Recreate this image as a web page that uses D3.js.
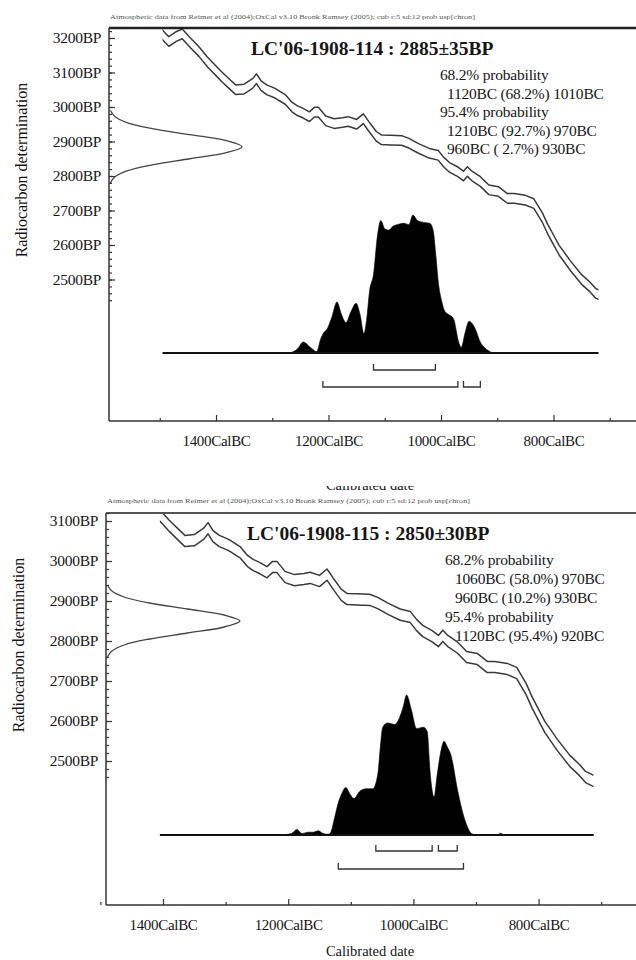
<!DOCTYPE html>
<html><head><meta charset="utf-8">
<script src="https://cdn.jsdelivr.net/npm/d3@7"></script>
<style>body{margin:0;background:#fff} svg{display:block}</style>
</head><body>
<svg id="c" width="636" height="960"></svg>
<script>
// ---------------- data ----------------
const headerText = "Atmospheric data from Reimer et al (2004);OxCal v3.10 Bronk Ramsey (2005); cub r:5 sd:12 prob usp[chron]";
const yAxisTitle = "Radiocarbon determination";
const xAxisTitle = "Calibrated date";
const xTickYears = [1400, 1200, 1000, 800];
const xMinorYears = [1500, 1300, 1100, 900, 700];
const yTicks1 = [3200, 3100, 3000, 2900, 2800, 2700, 2600, 2500];
const yTicks2 = [3100, 3000, 2900, 2800, 2700, 2600, 2500];

// calibration curve (IntCal04, as drawn): year BC, BP mean, +/- error
const curveYears = [1500,1490,1484,1470,1460,1445,1430,1415,1400,1390,1375,1365,1350,1335,1328,1320,1310,1295,1277,1265,1256,1245,1234,1225,1218,1205,1190,1175,1165,1150,1138,1128,1115,1106,1090,1070,1057,1040,1021,1005,995,985,970,960,953,945,930,915,898,882,870,850,835,820,810,800,790,770,750,735,725,712];
const curveBP = [3218,3200,3190,3205,3212,3185,3160,3130,3105,3088,3065,3050,3052,3068,3082,3062,3050,3040,3022,3000,2990,2982,2972,2985,2985,2960,2952,2955,2958,2950,2966,2943,2915,2905,2904,2903,2895,2880,2866,2860,2840,2825,2812,2800,2813,2800,2784,2760,2755,2735,2735,2730,2720,2680,2645,2615,2585,2540,2500,2478,2460,2450];
const curveErr = 14;

// radiocarbon date distribution shape (z in sigma units, relative density)
const gaussZ = [-3,-2.5,-2,-1.5,-1,-0.5,0,0.5,1,1.5,2,2.5,3];
const gaussP = [0.011,0.044,0.135,0.325,0.607,0.882,1,0.882,0.607,0.325,0.135,0.044,0.011];

// sample 1
const title1 = "LC'06-1908-114 : 2885\u00b135BP";
const date1 = 2885, err1 = 35;
const prob1Lines = ["68.2% probability", "1120BC (68.2%) 1010BC", "95.4% probability", "1210BC (92.7%) 970BC", "960BC ( 2.7%) 930BC"];
const prob1Indent = [0, 1, 0, 1, 1];
const dist1Years = [1269,1255,1245,1232,1221,1214,1208,1203,1194,1185,1177,1169,1160,1151,1144,1137,1132,1127,1120,1113,1107,1100,1093,1085,1078,1066,1057,1050,1042,1035,1020,1014,1009,1005,999,993,987,978,968,964,957,950,941,929,917,908];
const dist1P = [0,0.03,0.08,0.04,0.01,0.10,0.15,0.17,0.26,0.37,0.28,0.22,0.30,0.36,0.28,0.14,0.25,0.45,0.57,0.85,0.96,0.90,0.89,0.92,0.93,0.94,0.93,1.0,0.96,0.95,0.94,0.89,0.70,0.52,0.38,0.30,0.28,0.25,0.07,0.04,0.15,0.23,0.19,0.07,0.02,0];
const range1_68 = [[1120, 1010]];
const range1_95 = [[1210, 970], [960, 930]];
const span1 = [1495, 720];

// sample 2
const title2 = "LC'06-1908-115 : 2850\u00b130BP";
const date2 = 2850, err2 = 30;
const prob2Lines = ["68.2% probability", "1060BC (58.0%) 970BC", "960BC (10.2%) 930BC", "95.4% probability", "1120BC (95.4%) 920BC"];
const prob2Indent = [0, 1, 1, 0, 1];
const dist2Years = [1210,1195,1186,1178,1168,1160,1152,1144,1136,1132,1126,1120,1114,1108,1101,1095,1086,1076,1065,1057,1053,1049,1041,1030,1022,1016,1011,1003,995,984,978,973,967,962,956,951,946,940,929,918,907,900,866,861,856];
const dist2P = [0,0.01,0.04,0.01,0.02,0.02,0.03,0.01,0.005,0.02,0.12,0.23,0.30,0.34,0.29,0.26,0.31,0.33,0.33,0.43,0.62,0.77,0.80,0.79,0.84,0.92,1.0,0.89,0.76,0.77,0.74,0.43,0.27,0.43,0.60,0.67,0.63,0.57,0.31,0.11,0.01,0,0,0.012,0];
const range2_68 = [[1060, 970], [960, 930]];
const range2_95 = [[1120, 920]];
const span2 = [1405, 712];

// ---------------- drawing ----------------
const svg = d3.select("#c");
const FONT = "'Liberation Serif','Times New Roman',serif";
const INK = "#161616";
const curvePts = curveYears.map((y, i) => ({year: y, bp: curveBP[i]}));

function drawPanel(p, d, id) {
  const g = svg.append("g");
  const x = d3.scaleLinear().domain([1400, 1200]).range([p.x0, p.x0 + p.xPer200]);
  const y = d3.scaleLinear().domain([p.yTopBP, p.yTopBP - 100]).range([p.y0, p.y0 + p.yPer100]);
  const yd = d3.scaleLinear().domain([0, 1]).range([p.baseY, p.baseY - p.distH]);
  const gx = d3.scaleLinear().domain([0, 1]).range([p.left, p.left + p.gaussW]);

  // header
  g.append("text").attr("x", p.left + 1).attr("y", p.headerY)
    .attr("font-family", FONT).attr("font-size", 6.2).attr("fill", "#555")
    .attr("textLength", p.headerLen).attr("lengthAdjust", "spacingAndGlyphs").text(headerText);

  // clip
  const clipId = "clip" + id;
  svg.append("clipPath").attr("id", clipId).append("rect")
    .attr("x", x(d.span[0])).attr("y", p.top + 1)
    .attr("width", x(d.span[1]) - x(d.span[0])).attr("height", p.bottom - p.top - 2);

  // calibration curve (two lines)
  [1, -1].forEach(s => {
    g.append("path").datum(curvePts)
      .attr("clip-path", `url(#${clipId})`)
      .attr("fill", "none").attr("stroke", "#3a3a3a").attr("stroke-width", 1.5)
      .attr("stroke-linejoin", "round")
      .attr("d", d3.line().x(v => x(v.year)).y(v => y(v.bp + s * curveErr)));
  });

  // radiocarbon date gaussian
  const gp = gaussZ.map((z, i) => ({bp: d.date + z * d.err, p: gaussP[i]}));
  g.append("path").datum(gp)
    .attr("fill", "none").attr("stroke", "#444").attr("stroke-width", 1.3)
    .attr("d", d3.line().curve(d3.curveCatmullRom).x(v => gx(v.p)).y(v => y(v.bp)));

  // calibrated distribution
  const dp = d.years.map((yr, i) => ({year: yr, p: d.prob[i]}));
  g.append("path").datum(dp).attr("fill", "#000").attr("stroke", "#000").attr("stroke-width", 0.6)
    .attr("d", d3.area().curve(d3.curveMonotoneX).x(v => x(v.year)).y0(p.baseY).y1(v => yd(v.p)));
  g.append("line").attr("x1", x(d.span[0])).attr("x2", x(d.span[1]))
    .attr("y1", p.baseY).attr("y2", p.baseY).attr("stroke", "#111").attr("stroke-width", 2.2);

  // ranges
  function brackets(ranges, yy) {
    ranges.forEach(r => {
      const x1 = x(r[0]), x2 = x(r[1]);
      g.append("path").attr("fill", "none").attr("stroke", "#333").attr("stroke-width", 1.3)
        .attr("d", `M${x1},${yy - 6}V${yy}H${x2}V${yy - 6}`);
    });
  }
  brackets(d.r68, p.br68);
  brackets(d.r95, p.br95);

  // frame
  g.append("line").attr("x1", p.left).attr("x2", 636).attr("y1", p.top).attr("y2", p.top)
    .attr("stroke", p.topColor).attr("stroke-width", p.topWidth);
  g.append("line").attr("x1", p.left).attr("x2", p.left).attr("y1", p.top).attr("y2", p.bottom)
    .attr("stroke", "#333").attr("stroke-width", 1.5);
  g.append("line").attr("x1", p.left).attr("x2", 636).attr("y1", p.bottom).attr("y2", p.bottom)
    .attr("stroke", "#333").attr("stroke-width", 1.5);

  // y axis
  const yMajor = g.append("g").attr("transform", `translate(${p.left},0)`)
    .call(d3.axisLeft(y).tickValues(d.yTicks).tickSize(-6).tickPadding(p.yPad).tickFormat(v => v + "BP"));
  const yMinor = g.append("g").attr("transform", `translate(${p.left},0)`)
    .call(d3.axisLeft(y).tickValues(d3.range(p.minorLo, p.minorHi + 1, 20)).tickSize(-3).tickFormat(""));
  // x axis
  const xMajor = g.append("g").attr("transform", `translate(0,${p.bottom})`)
    .call(d3.axisBottom(x).tickValues(xTickYears).tickSize(-6).tickPadding(p.xPad).tickFormat(v => v + "CalBC"));
  const xMinor = g.append("g").attr("transform", `translate(0,${p.bottom})`)
    .call(d3.axisBottom(x).tickValues(xMinorYears).tickSize(-3).tickFormat(""));
  [yMajor, yMinor, xMajor, xMinor].forEach(a => {
    a.select(".domain").remove();
    a.selectAll(".tick line").attr("stroke", "#333").attr("stroke-width", 1.2);
  });
  yMajor.selectAll("text").attr("font-family", FONT).attr("font-size", 15.5).attr("fill", INK)
    .attr("letter-spacing", -0.3);
  xMajor.selectAll("text").attr("font-family", FONT).attr("font-size", 15).attr("fill", INK)
    .attr("letter-spacing", -0.3);

  // y title
  g.append("text").attr("transform", `translate(${p.ytX},${p.ytY}) rotate(-90)`)
    .attr("text-anchor", "middle").attr("font-family", FONT).attr("font-size", 16).attr("fill", INK)
    .text(yAxisTitle);

  // title
  g.append("text").attr("x", p.titleX).attr("y", p.titleY).attr("font-family", FONT)
    .attr("font-size", 19.5).attr("font-weight", "bold").attr("fill", INK).text(d.title);

  // probability text
  d.lines.forEach((t, i) => {
    g.append("text").attr("x", p.textX + d.indent[i] * p.indentW).attr("y", p.textY + i * p.textStep)
      .attr("font-family", FONT).attr("font-size", 15.5).attr("fill", INK)
      .attr("letter-spacing", -0.2)
      .attr("xml:space", "preserve").text(t);
  });
  return {x, y};
}

drawPanel(
  {left: 109, top: 28, bottom: 421, x0: 216, xPer200: 112.5, y0: 38, yPer100: 34.5, yTopBP: 3200,
   baseY: 353, distH: 138, br68: 370, br95: 387, gaussW: 133, headerY: 19, headerLen: 365,
   titleX: 251, titleY: 55, textX: 440, textY: 80, textStep: 18.5, indentW: 7,
   ytX: 27, ytY: 170, yPad: 8, xPad: 14, minorLo: 2440, minorHi: 3220,
   topColor: "#222", topWidth: 2.5},
  {title: title1, date: date1, err: err1, lines: prob1Lines, indent: prob1Indent,
   years: dist1Years, prob: dist1P, r68: range1_68, r95: range1_95, span: span1, yTicks: yTicks1}, 1);

drawPanel(
  {left: 106, top: 513, bottom: 905, x0: 163, xPer200: 125.2, y0: 521, yPer100: 40, yTopBP: 3100,
   baseY: 835, distH: 140, br68: 851, br95: 869, gaussW: 134, headerY: 503, headerLen: 363,
   titleX: 247, titleY: 540, textX: 445, textY: 565, textStep: 19, indentW: 10,
   ytX: 24, ytY: 645, yPad: 8, xPad: 14, minorLo: 2460, minorHi: 3120,
   topColor: "#555", topWidth: 2.2},
  {title: title2, date: date2, err: err2, lines: prob2Lines, indent: prob2Indent,
   years: dist2Years, prob: dist2P, r68: range2_68, r95: range2_95, span: span2, yTicks: yTicks2}, 2);

// x axis titles (panel 1's is cropped in the source picture)
svg.append("clipPath").attr("id", "cropTitle").append("rect").attr("x", 0).attr("y", 486).attr("width", 636).attr("height", 6);
svg.append("text").attr("x", 370).attr("y", 490).attr("text-anchor", "middle").attr("clip-path", "url(#cropTitle)")
  .attr("font-family", FONT).attr("font-size", 14.5).attr("fill", INK).text(xAxisTitle);
svg.append("text").attr("x", 370).attr("y", 956).attr("text-anchor", "middle")
  .attr("font-family", FONT).attr("font-size", 14.5).attr("fill", INK).text(xAxisTitle);
</script>
</body></html>
